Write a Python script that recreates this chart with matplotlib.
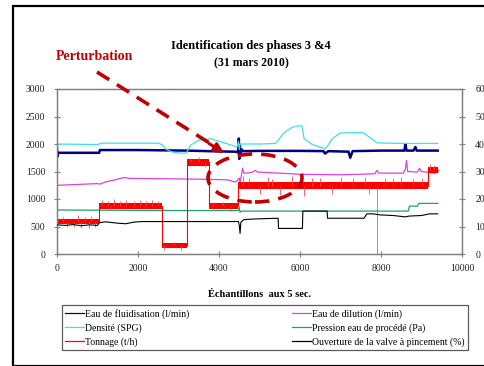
import numpy as np
import matplotlib
matplotlib.use("Agg")
import matplotlib.pyplot as plt
from matplotlib.patches import Rectangle, Ellipse
from matplotlib.lines import Line2D

# ---------------- data ----------------
fluid_x = [0, 10, 20, 40, 1040, 1060, 2000, 3200, 4000, 4400, 4470, 4490, 4500, 4515, 4530, 4560, 4600,
           5000, 6000, 6580, 6620, 6700, 7200, 7240, 7300, 8000, 8580, 8600, 8630, 8800, 8850, 8880, 9400]
fluid_y = [1920, 1770, 1830, 1840, 1840, 1890, 1890, 1880, 1865, 1860, 1850, 2100, 1730, 1980, 1800, 1900, 1870,
           1875, 1875, 1870, 1825, 1870, 1860, 1750, 1870, 1880, 1880, 2000, 1880, 1880, 1945, 1880, 1880]

dil_x = [0, 50, 1000, 1050, 1200, 1500, 1650, 1800, 2500, 3500, 4200, 4400, 4450, 4500, 4520, 4560, 4580,
         4620, 4800, 4900, 4950, 5500, 6000, 7000, 7500, 7850, 7900, 7950, 8550, 8600, 8630, 8660, 8900,
         8950, 9000, 9300, 9400]
dil_y = [1240, 1250, 1280, 1270, 1310, 1360, 1390, 1375, 1370, 1360, 1350, 1310, 1330, 1380, 1290, 1460, 1560,
         1470, 1480, 1520, 1490, 1470, 1450, 1440, 1450, 1460, 1520, 1470, 1470, 1540, 1700, 1500, 1490,
         1560, 1500, 1470, 1480]

dens_x = [0, 1000, 1100, 2500, 2600, 2700, 2860, 3150, 3200, 3300, 3500, 3800, 4000, 4300, 4450, 4480, 4500,
          4520, 4600, 5000, 5400, 5600, 5800, 5950, 6050, 6100, 6300, 6600, 6650, 6800, 7000, 7550, 7800,
          7900, 8600, 9400]
dens_y = [2000, 1990, 2015, 2015, 1985, 1900, 1850, 1830, 1840, 1980, 2070, 2095, 2050, 1980, 1950, 2050, 1900,
          2000, 2000, 2000, 2010, 2200, 2300, 2330, 2330, 2100, 1990, 1920, 1930, 2100, 2200, 2210, 2080,
          2020, 2010, 2010]

pres_x = [0, 3000, 4480, 4500, 4520, 4560, 8675, 8700, 8900, 8930, 9400]
pres_y = [800, 790, 790, 850, 760, 780, 780, 870, 870, 920, 920]

# Tonnage (t/h): plateaus, band half-width of the noise, and spikes
ton_start = [0, 1030, 2600, 3200, 3750, 4480, 9150]
ton_end = [1030, 2600, 3200, 3750, 4480, 9150, 9400]
ton_level = [590, 875, 155, 1665, 865, 1245, 1530]
ton_band = [50, 50, 50, 60, 55, 65, 55]
ton_spike_x = [150, 250, 420, 520, 600, 700, 780, 850, 950,
               1100, 1250, 1300, 1400, 1550, 1700, 1900, 2050, 2200, 2350, 2500,
               2650, 2900, 3050, 3300, 3500, 3650, 3850, 4100, 4300,
               4600, 4750, 5000, 5200, 5300, 5500, 5800, 6100, 6300, 6500, 6800, 7000,
               7300, 7600, 7700, 7893, 8100, 8300, 8500, 8800, 9000, 9200, 9300]
ton_spike_y = [680, 500, 490, 710, 480, 670, 470, 690, 500,
               990, 960, 800, 1000, 960, 985, 960, 990, 965, 990, 970,
               70, 220, 80, 1750, 1760, 1590, 950, 940, 790,
               1420, 1390, 1090, 1400, 1370, 1070, 1410, 1060, 1390, 1380, 1090, 1400,
               1380, 1400, 1090, 0, 1390, 1380, 1400, 1370, 1390, 1640, 1610]

# Ouverture de la valve (%) - right axis
valve_x = [0, 200, 400, 600, 800, 1000, 1050, 1200, 1500, 1700, 1900, 2100, 4480, 4500, 4520, 4540, 4600,
           4700, 5000, 5460, 5470, 6060, 6070, 6670, 6680, 7580, 7650, 7800, 8000, 8300, 8600, 8700, 9000,
           9200, 9400]
valve_y = [10.6, 10.4, 10.7, 10.3, 10.6, 10.4, 11.4, 11.7, 11.2, 11.0, 11.6, 11.8, 11.8, 10.5, 7.5, 11.5, 12.4,
           12.6, 12.8, 13.0, 9.3, 9.3, 15.6, 15.6, 13.0, 13.0, 14.6, 14.6, 14.2, 14.0, 13.5, 13.8, 14.0,
           14.6, 14.6]

labels = ["Eau de fluidisation (l/min)", "Eau de dilution (l/min)", "Densité (SPG)",
          "Pression eau de procédé (Pa)", "Tonnage (t/h)", "Ouverture de la valve à pincement (%)"]
colors = ["#000080", "#E040E0", "#40E0E0", "#20A070", "#FF0000", "#000000"]

x_ticks = [0, 2000, 4000, 6000, 8000, 10000]
yl_ticks = [0, 500, 1000, 1500, 2000, 2500, 3000]
yr_ticks = [0, 10, 20, 30, 40, 50, 60]

# ---------------- figure ----------------
W, H = 484, 366
plt.rcParams['font.family'] = ['Liberation Serif', 'DejaVu Serif']
fig = plt.figure(figsize=(W / 100, H / 100), dpi=100)

def fx(px):
    return px / W

def fy(py):
    return 1 - py / H

ax = fig.add_axes([fx(57), fy(254), fx(462) - fx(57), fy(89) - fy(254)])
ax2 = ax.twinx()

spine_c = "#808080"
for a in (ax, ax2):
    for s in a.spines.values():
        s.set_color(spine_c)
        s.set_linewidth(0.9)
    a.tick_params(direction='inout', length=5, width=0.8, color=spine_c,
                  labelsize=7, labelcolor="#222222")
ax.tick_params(axis='y', pad=6)
ax.tick_params(axis='x', pad=5)
ax2.tick_params(axis='y', pad=7)

ax.set_xlim(0, 10000)
ax.set_ylim(0, 3000)
ax2.set_ylim(0, 60)
ax.set_xticks(x_ticks)
ax.set_yticks(yl_ticks)
ax2.set_yticks(yr_ticks)

l1, = ax.plot(fluid_x, fluid_y, color=colors[0], lw=1.8, zorder=3)
l2, = ax.plot(dil_x, dil_y, color=colors[1], lw=0.9, zorder=3)
l3, = ax.plot(dens_x, dens_y, color=colors[2], lw=0.9, zorder=3)
l4, = ax.plot(pres_x, pres_y, color=colors[3], lw=0.9, zorder=3)

# tonnage: step path + noise bands + spikes
step_x, step_y = [], []
for s, e, lv in zip(ton_start, ton_end, ton_level):
    step_x += [s, e]
    step_y += [lv, lv]
l5, = ax.plot(step_x, step_y, color=colors[4], lw=0.8, zorder=4)
for s, e, lv, b in zip(ton_start, ton_end, ton_level, ton_band):
    ax.fill_between([s, e], [lv - b, lv - b], [lv + b, lv + b], color=colors[4], lw=0, zorder=4)
spike_base = []
for sx in ton_spike_x:
    for s, e, lv in zip(ton_start, ton_end, ton_level):
        if s <= sx < e:
            spike_base.append(lv)
            break
ax.vlines(ton_spike_x, spike_base, ton_spike_y, color="#FF4040", lw=0.55, zorder=4)

l6, = ax2.plot(valve_x, valve_y, color=colors[5], lw=0.8, zorder=5)

# labels / titles
ax.set_xlabel("Échantillons  aux 5 sec.", fontsize=7.5, fontweight='bold', labelpad=12)
fig.text(fx(251), fy(46), "Identification des phases 3 &4", ha='center', va='center',
         fontsize=9, fontweight='bold')
fig.text(fx(251), fy(63), "(31 mars 2010)", ha='center', va='center', fontsize=8.5, fontweight='bold')
red_dark = "#C00000"
fig.text(fx(94), fy(57), "Perturbation", ha='center', va='center', fontsize=10,
         fontweight='bold', color=red_dark)

# legend
handles = [l1, l3, l5, l2, l4, l6]
leg_labels = [labels[0], labels[2], labels[4], labels[1], labels[3], labels[5]]
handles = [Line2D([], [], color=h.get_color(), lw=0.9) for h in handles]
leg = fig.legend(handles, leg_labels, ncol=2, loc='lower left',
                 bbox_to_anchor=(fx(62), fy(350), fx(468) - fx(62), fy(305) - fy(350)),
                 mode='expand', borderaxespad=0, frameon=True, fancybox=False,
                 edgecolor='#333333', fontsize=7, handlelength=1.9, handletextpad=0.15,
                 labelspacing=0.45, borderpad=0.35)
leg.get_frame().set_linewidth(0.9)

# annotation: dashed arrow and ellipse
ax_line = Line2D([fx(97), fx(211)], [fy(72), fy(144)], transform=fig.transFigure,
                 color=red_dark, lw=2.6, ls=(0, (4, 2.5)), zorder=10)
fig.lines.append(ax_line)
ax.annotate("", xy=(fx(224), fy(153)), xycoords='figure fraction',
            xytext=(fx(209), fy(143.5)), textcoords='figure fraction',
            arrowprops=dict(arrowstyle='-|>', color=red_dark, lw=2.2, mutation_scale=14,
                            shrinkA=0, shrinkB=0),
            annotation_clip=False)
ell = Ellipse((fx(255), fy(178)), fx(94), fy(0) - fy(48), transform=fig.transFigure,
              fill=False, ec=red_dark, lw=2.6, ls=(0, (4, 2.5)), zorder=10)
fig.patches.append(ell)

# outer frame
frame = Rectangle((fx(12.5), fy(366)), fx(600), fy(5.5) - fy(366), transform=fig.transFigure,
                  fill=False, ec='black', lw=1.6)
fig.patches.append(frame)
fig.lines.append(Line2D([fx(12), fx(484)], [fy(365.5), fy(365.5)], transform=fig.transFigure,
                        color='#BBBBBB', lw=0.8))

fig.savefig("out.png", dpi=100)
